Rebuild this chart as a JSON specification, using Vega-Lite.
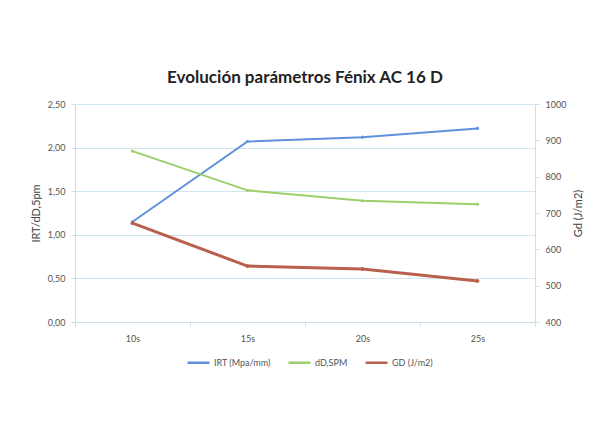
{
  "$schema": "https://vega.github.io/schema/vega-lite/v6.json",
  "width": 460,
  "height": 218,
  "autosize": {"type": "none"},
  "padding": {"left": 75, "top": 104, "right": 62, "bottom": 106},
  "background": "white",
  "title": {
    "text": "Evolución parámetros Fénix AC 16 D",
    "font": "Lato",
    "fontSize": 17,
    "fontWeight": "bold",
    "color": "#222222",
    "anchor": "middle",
    "offset": 13
  },
  "data": {
    "values": [
      {"t": "10s", "serie": "IRT (Mpa/mm)", "v": 1.15},
      {"t": "15s", "serie": "IRT (Mpa/mm)", "v": 2.07},
      {"t": "20s", "serie": "IRT (Mpa/mm)", "v": 2.12},
      {"t": "25s", "serie": "IRT (Mpa/mm)", "v": 2.22},
      {"t": "10s", "serie": "dD,SPM", "v": 1.96},
      {"t": "15s", "serie": "dD,SPM", "v": 1.51},
      {"t": "20s", "serie": "dD,SPM", "v": 1.39},
      {"t": "25s", "serie": "dD,SPM", "v": 1.35},
      {"t": "10s", "serie": "GD (J/m2)", "v": 672},
      {"t": "15s", "serie": "GD (J/m2)", "v": 554},
      {"t": "20s", "serie": "GD (J/m2)", "v": 546},
      {"t": "25s", "serie": "GD (J/m2)", "v": 513}
    ]
  },
  "encoding": {
    "x": {
      "field": "t",
      "type": "nominal",
      "scale": {"type": "band", "paddingInner": 0, "paddingOuter": 0},
      "axis": {
        "title": null,
        "labelAngle": 0,
        "tickBand": "extent",
        "tickSize": 4,
        "labelPadding": 8,
        "domainColor": "#c9dfec",
        "tickColor": "#c9dfec",
        "grid": false
      }
    },
    "color": {
      "field": "serie",
      "type": "nominal",
      "scale": {
        "domain": ["IRT (Mpa/mm)", "dD,SPM", "GD (J/m2)"],
        "range": ["#5f91dc", "#9cce6b", "#b8604d"]
      },
      "legend": {
        "orient": "none",
        "legendX": 111,
        "legendY": 246,
        "direction": "horizontal",
        "title": null,
        "symbolType": "stroke",
        "symbolSize": 484,
        "symbolStrokeWidth": 2.5,
        "columnPadding": 12,
        "labelOffset": 3
      }
    }
  },
  "layer": [
    {
      "transform": [{"filter": "datum.serie !== 'GD (J/m2)'"}],
      "mark": {"type": "line", "strokeWidth": 2, "point": {"size": 10, "filled": true}},
      "encoding": {
        "y": {
          "field": "v",
          "type": "quantitative",
          "scale": {"domain": [0, 2.5], "nice": false},
          "axis": {
            "title": "IRT/dD,5pm",
            "values": [0, 0.5, 1, 1.5, 2, 2.5],
            "labelExpr": "replace(format(datum.value, '.2f'), '.', ',')",
            "grid": true,
            "gridColor": "#d3e5f0",
            "domainColor": "#c9dfec",
            "tickColor": "#c9dfec",
            "tickSize": 4,
            "labelPadding": 6,
            "titlePadding": 6
          }
        }
      }
    },
    {
      "transform": [{"filter": "datum.serie === 'GD (J/m2)'"}],
      "mark": {"type": "line", "strokeWidth": 3, "point": {"size": 14, "filled": true}},
      "encoding": {
        "y": {
          "field": "v",
          "type": "quantitative",
          "scale": {"domain": [400, 1000], "nice": false, "zero": false},
          "axis": {
            "orient": "right",
            "title": "Gd (J/m2)",
            "titleAngle": 270,
            "titleBaseline": "bottom",
            "format": "d",
            "values": [400, 500, 600, 700, 800, 900, 1000],
            "grid": false,
            "domainColor": "#c9dfec",
            "tickColor": "#c9dfec",
            "tickSize": 4,
            "labelPadding": 6,
            "titlePadding": 18
          }
        }
      }
    }
  ],
  "resolve": {"scale": {"y": "independent"}},
  "config": {
    "font": "Lato",
    "view": {"stroke": null},
    "axis": {
      "labelFont": "Lato",
      "labelFontSize": 9,
      "labelColor": "#555555",
      "titleFont": "Lato",
      "titleFontSize": 11,
      "titleFontWeight": "normal",
      "titleColor": "#444444"
    },
    "legend": {
      "labelFont": "Lato",
      "labelFontSize": 9,
      "labelColor": "#555555"
    }
  }
}
